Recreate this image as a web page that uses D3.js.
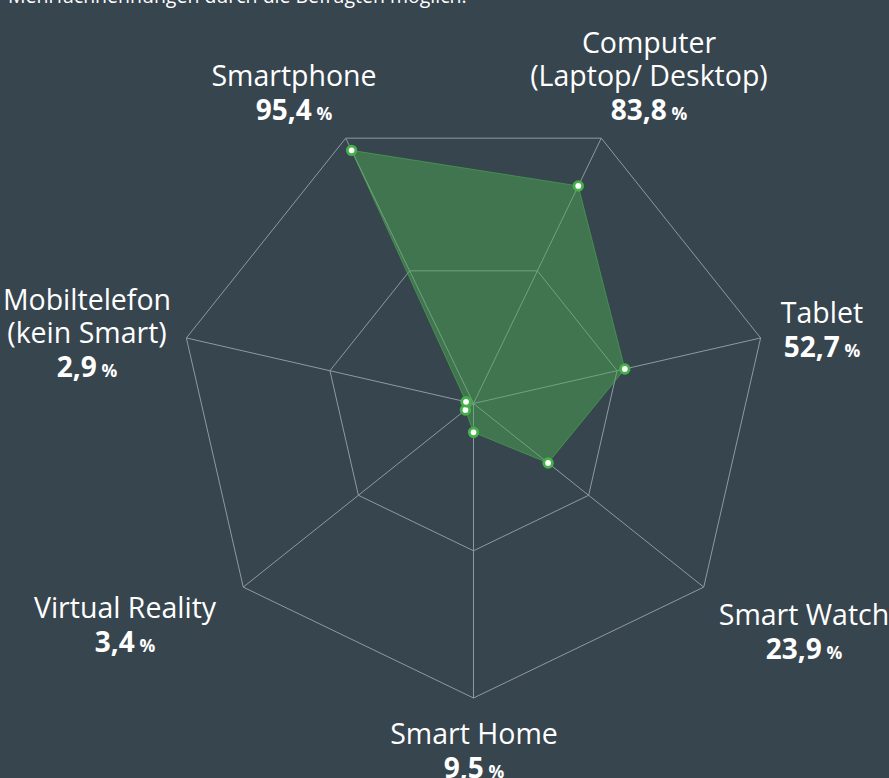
<!DOCTYPE html>
<html>
<head>
<meta charset="utf-8">
<script src="https://cdn.jsdelivr.net/npm/d3@7"></script>
<style>
  html, body { margin: 0; padding: 0; background: #37454f; }
  svg { display: block; }
  text { font-family: "Open Sans", sans-serif; fill: #ffffff; }
</style>
</head>
<body>
<svg id="chart" width="889" height="778"></svg>
<script>
// ---- data ----
const subtitle = "Mehrfachnennungen durch die Befragten möglich.";
const categories = ["Smartphone", "Computer\n(Laptop/ Desktop)", "Tablet", "Smart Watch", "Smart Home", "Virtual Reality", "Mobiltelefon\n(kein Smart)"];
// values as plotted in the picture (radial position of each point)
const plottedValues = [95.4, 82.0, 52.7, 32.4, 9.8, 3.5, 2.6];
// values as printed in the labels
const valueLabels = ["95,4", "83,8", "52,7", "23,9", "9,5", "3,4", "2,9"];
const gridLevels = [50, 100];
const maxValue = 100;

// ---- layout (styling only) ----
const cx = 473.5, cy = 403.5, R = 294.5;
const lineH = 33.6;
// label block: centre x and baseline of the last line
const labelLayout = [
  {x: 294, y: 120},
  {x: 649, y: 120},
  {x: 822, y: 357},
  {x: 804, y: 659},
  {x: 474, y: 778},
  {x: 125, y: 652},
  {x: 87, y: 377}
];

const svg = d3.select("#chart");

svg.append("text")
  .attr("x", 8).attr("y", 3)
  .style("font-size", "19.5px")
  .text(subtitle);

const n = categories.length;
const angle = d3.scaleLinear().domain([0, n]).range([-Math.PI / n, 2 * Math.PI - Math.PI / n]);
const r = d3.scaleLinear().domain([0, maxValue]).range([0, R]);

const g = svg.append("g").attr("transform", `translate(${cx},${cy})`);
const pt = (i, v) => [r(v) * Math.sin(angle(i)), -r(v) * Math.cos(angle(i))];

// grid rings
g.selectAll("path.ring").data(gridLevels).join("path")
  .attr("class", "ring")
  .attr("d", lv => d3.line()(d3.range(n).map(i => pt(i, lv))) + "Z")
  .attr("fill", "none").attr("stroke", "#8e9aa3").attr("stroke-width", 1);

// spokes
g.selectAll("line.spoke").data(d3.range(n)).join("line")
  .attr("class", "spoke")
  .attr("x1", 0).attr("y1", 0)
  .attr("x2", i => pt(i, maxValue)[0]).attr("y2", i => pt(i, maxValue)[1])
  .attr("stroke", "#8e9aa3").attr("stroke-width", 1);

// area
const radial = d3.lineRadial().angle((d, i) => angle(i)).radius(d => r(d)).curve(d3.curveLinearClosed);
g.append("path")
  .attr("d", radial(plottedValues))
  .attr("fill", "#4caf50").attr("fill-opacity", 0.45)
  .attr("stroke", "#4caf50").attr("stroke-opacity", 0.6).attr("stroke-width", 1);

// markers
g.selectAll("circle.pt").data(plottedValues).join("circle")
  .attr("class", "pt")
  .attr("cx", (d, i) => pt(i, d)[0]).attr("cy", (d, i) => pt(i, d)[1])
  .attr("r", 4.3)
  .attr("fill", "#ffffff").attr("stroke", "#45b04a").attr("stroke-width", 2.8);

// labels
categories.forEach((c, i) => {
  const lines = c.split("\n");
  const L = labelLayout[i];
  const t = svg.append("text").attr("text-anchor", "middle");
  const total = lines.length + 1;
  lines.forEach((ln, k) => {
    t.append("tspan").attr("x", L.x).attr("y", L.y - (total - 1 - k) * lineH)
      .style("font-size", "28.5px").text(ln);
  });
  const v = t.append("tspan").attr("x", L.x).attr("y", L.y);
  v.append("tspan").style("font-size", "28px").style("font-weight", "bold").text(valueLabels[i]);
  v.append("tspan").style("font-size", "17.5px").style("font-weight", "bold").text(" %");
});
</script>
</body>
</html>
